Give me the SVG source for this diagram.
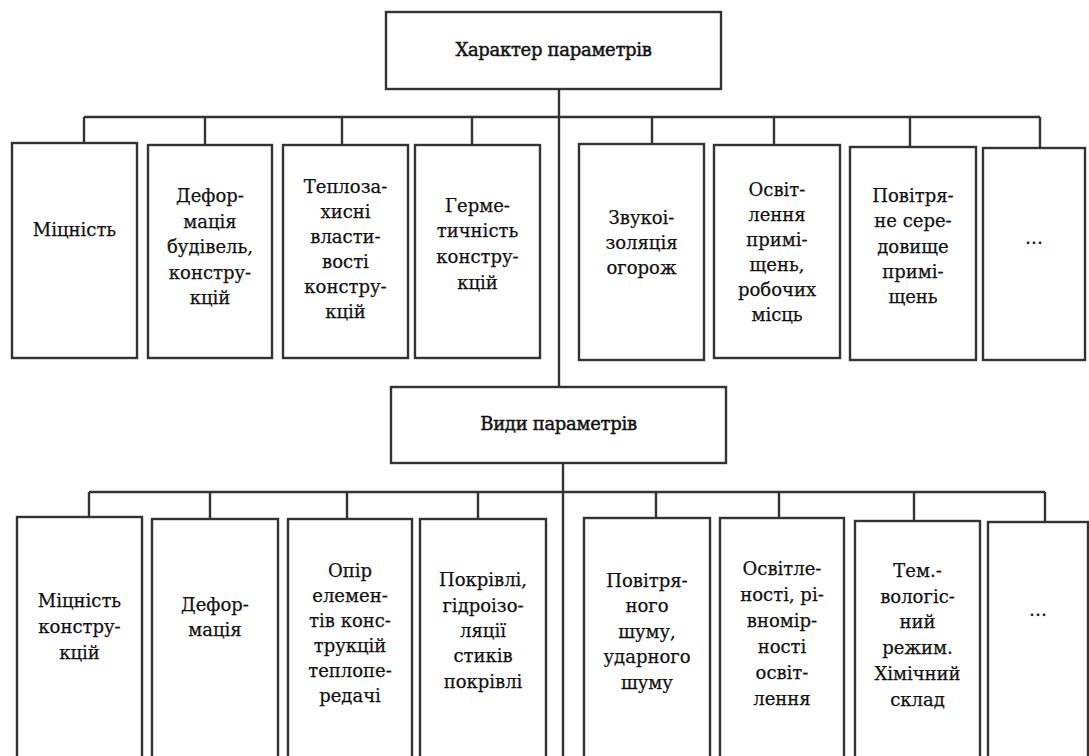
<svg xmlns="http://www.w3.org/2000/svg" width="1089" height="756" viewBox="0 0 1089 756">
<style>
.box{fill:#fff;stroke:#333;stroke-width:2.4}
.ln{fill:none;stroke:#333;stroke-width:2.4}
text{font-family:"DejaVu Serif","Liberation Serif",serif;font-size:18px;fill:#111;stroke:#111;stroke-width:0.25;text-anchor:middle}
.title{font-size:18px;letter-spacing:-0.3px;stroke-width:0.45}
</style>
<rect width="1089" height="756" fill="#fff"/>
<g id="connectors">
<path class="ln" d="M559 89V387M84 117H1040M84 117V143M205 117V145M342 117V145M472 117V145M652 117V144M774 117V145M910 117V147M1040 117V148"/>
<path class="ln" d="M563 463V756M89 492H1045M89 492V517M210 492V519M347 492V519M478 492V519M656 492V518M779 492V518M914 492V521M1045 492V522"/>
</g>
<g id="n-top"><rect class="box" x="386" y="12" width="335" height="77"/><text class="title" x="553.5" y="56">Характер параметрів</text></g>
<g id="n-r1-1"><rect class="box" x="12" y="143" width="125" height="215"/><text x="74.5" y="236">Міцність</text></g>
<g id="n-r1-2"><rect class="box" x="148" y="145" width="124" height="213"/><text x="210"><tspan x="210" y="202">Дефор-</tspan><tspan x="210" y="228">мація</tspan><tspan x="210" y="253">будівель,</tspan><tspan x="210" y="279">констру-</tspan><tspan x="210" y="304">кцій</tspan></text></g>
<g id="n-r1-3"><rect class="box" x="283" y="145" width="125" height="213"/><text><tspan x="345.5" y="193">Теплоза-</tspan><tspan x="345.5" y="218">хисні</tspan><tspan x="345.5" y="243">власти-</tspan><tspan x="345.5" y="268">вості</tspan><tspan x="345.5" y="293">констру-</tspan><tspan x="345.5" y="318">кцій</tspan></text></g>
<g id="n-r1-4"><rect class="box" x="415" y="145" width="125" height="213"/><text><tspan x="477.5" y="212">Герме-</tspan><tspan x="477.5" y="237">тичність</tspan><tspan x="477.5" y="263">констру-</tspan><tspan x="477.5" y="289">кцій</tspan></text></g>
<g id="n-r1-5"><rect class="box" x="579" y="144" width="125" height="216"/><text><tspan x="641.5" y="224">Звукоі-</tspan><tspan x="641.5" y="249">золяція</tspan><tspan x="641.5" y="274">огорож</tspan></text></g>
<g id="n-r1-6"><rect class="box" x="714" y="145" width="126" height="213"/><text><tspan x="777" y="196">Освіт-</tspan><tspan x="777" y="221">лення</tspan><tspan x="777" y="246">примі-</tspan><tspan x="777" y="271">щень,</tspan><tspan x="777" y="296">робочих</tspan><tspan x="777" y="321">місць</tspan></text></g>
<g id="n-r1-7"><rect class="box" x="850" y="147" width="126" height="213"/><text><tspan x="913" y="202">Повітря-</tspan><tspan x="913" y="227">не сере-</tspan><tspan x="913" y="253">довище</tspan><tspan x="913" y="278">примі-</tspan><tspan x="913" y="303">щень</tspan></text></g>
<g id="n-r1-8"><rect class="box" x="983" y="148" width="102" height="212"/><text x="1034" y="244">…</text></g>
<g id="n-mid"><rect class="box" x="391" y="387" width="335" height="76"/><text class="title" x="558.5" y="430">Види параметрів</text></g>
<g id="n-r2-1"><rect class="box" x="17" y="517" width="125" height="242"/><text><tspan x="79.5" y="607">Міцність</tspan><tspan x="79.5" y="633">констру-</tspan><tspan x="79.5" y="659">кцій</tspan></text></g>
<g id="n-r2-2"><rect class="box" x="152" y="519" width="126" height="240"/><text><tspan x="215" y="611">Дефор-</tspan><tspan x="215" y="636">мація</tspan></text></g>
<g id="n-r2-3"><rect class="box" x="288" y="519" width="124" height="240"/><text><tspan x="350" y="577">Опір</tspan><tspan x="350" y="602">елемен-</tspan><tspan x="350" y="627">тів конс-</tspan><tspan x="350" y="652">трукцій</tspan><tspan x="350" y="677">теплопе-</tspan><tspan x="350" y="702">редачі</tspan></text></g>
<g id="n-r2-4"><rect class="box" x="420" y="519" width="126" height="240"/><text><tspan x="483" y="586">Покрівлі,</tspan><tspan x="483" y="612">гідроізо-</tspan><tspan x="483" y="637">ляції</tspan><tspan x="483" y="662">стиків</tspan><tspan x="483" y="688">покрівлі</tspan></text></g>
<g id="n-r2-5"><rect class="box" x="584" y="518" width="126" height="241"/><text><tspan x="647" y="587">Повітря-</tspan><tspan x="647" y="612">ного</tspan><tspan x="647" y="638">шуму,</tspan><tspan x="647" y="663">ударного</tspan><tspan x="647" y="689">шуму</tspan></text></g>
<g id="n-r2-6"><rect class="box" x="720" y="518" width="124" height="241"/><text><tspan x="782" y="575">Освітле-</tspan><tspan x="782" y="601">ності, рі-</tspan><tspan x="782" y="627">вномір-</tspan><tspan x="782" y="653">ності</tspan><tspan x="782" y="679">освіт-</tspan><tspan x="782" y="705">лення</tspan></text></g>
<g id="n-r2-7"><rect class="box" x="855" y="521" width="125" height="238"/><text><tspan x="917.5" y="577">Тем.-</tspan><tspan x="917.5" y="603">вологіс-</tspan><tspan x="917.5" y="628">ний</tspan><tspan x="917.5" y="654">режим.</tspan><tspan x="917.5" y="680">Хімічний</tspan><tspan x="917.5" y="706">склад</tspan></text></g>
<g id="n-r2-8"><rect class="box" x="988" y="522" width="100" height="237"/><text x="1038" y="616">…</text></g>
</svg>
